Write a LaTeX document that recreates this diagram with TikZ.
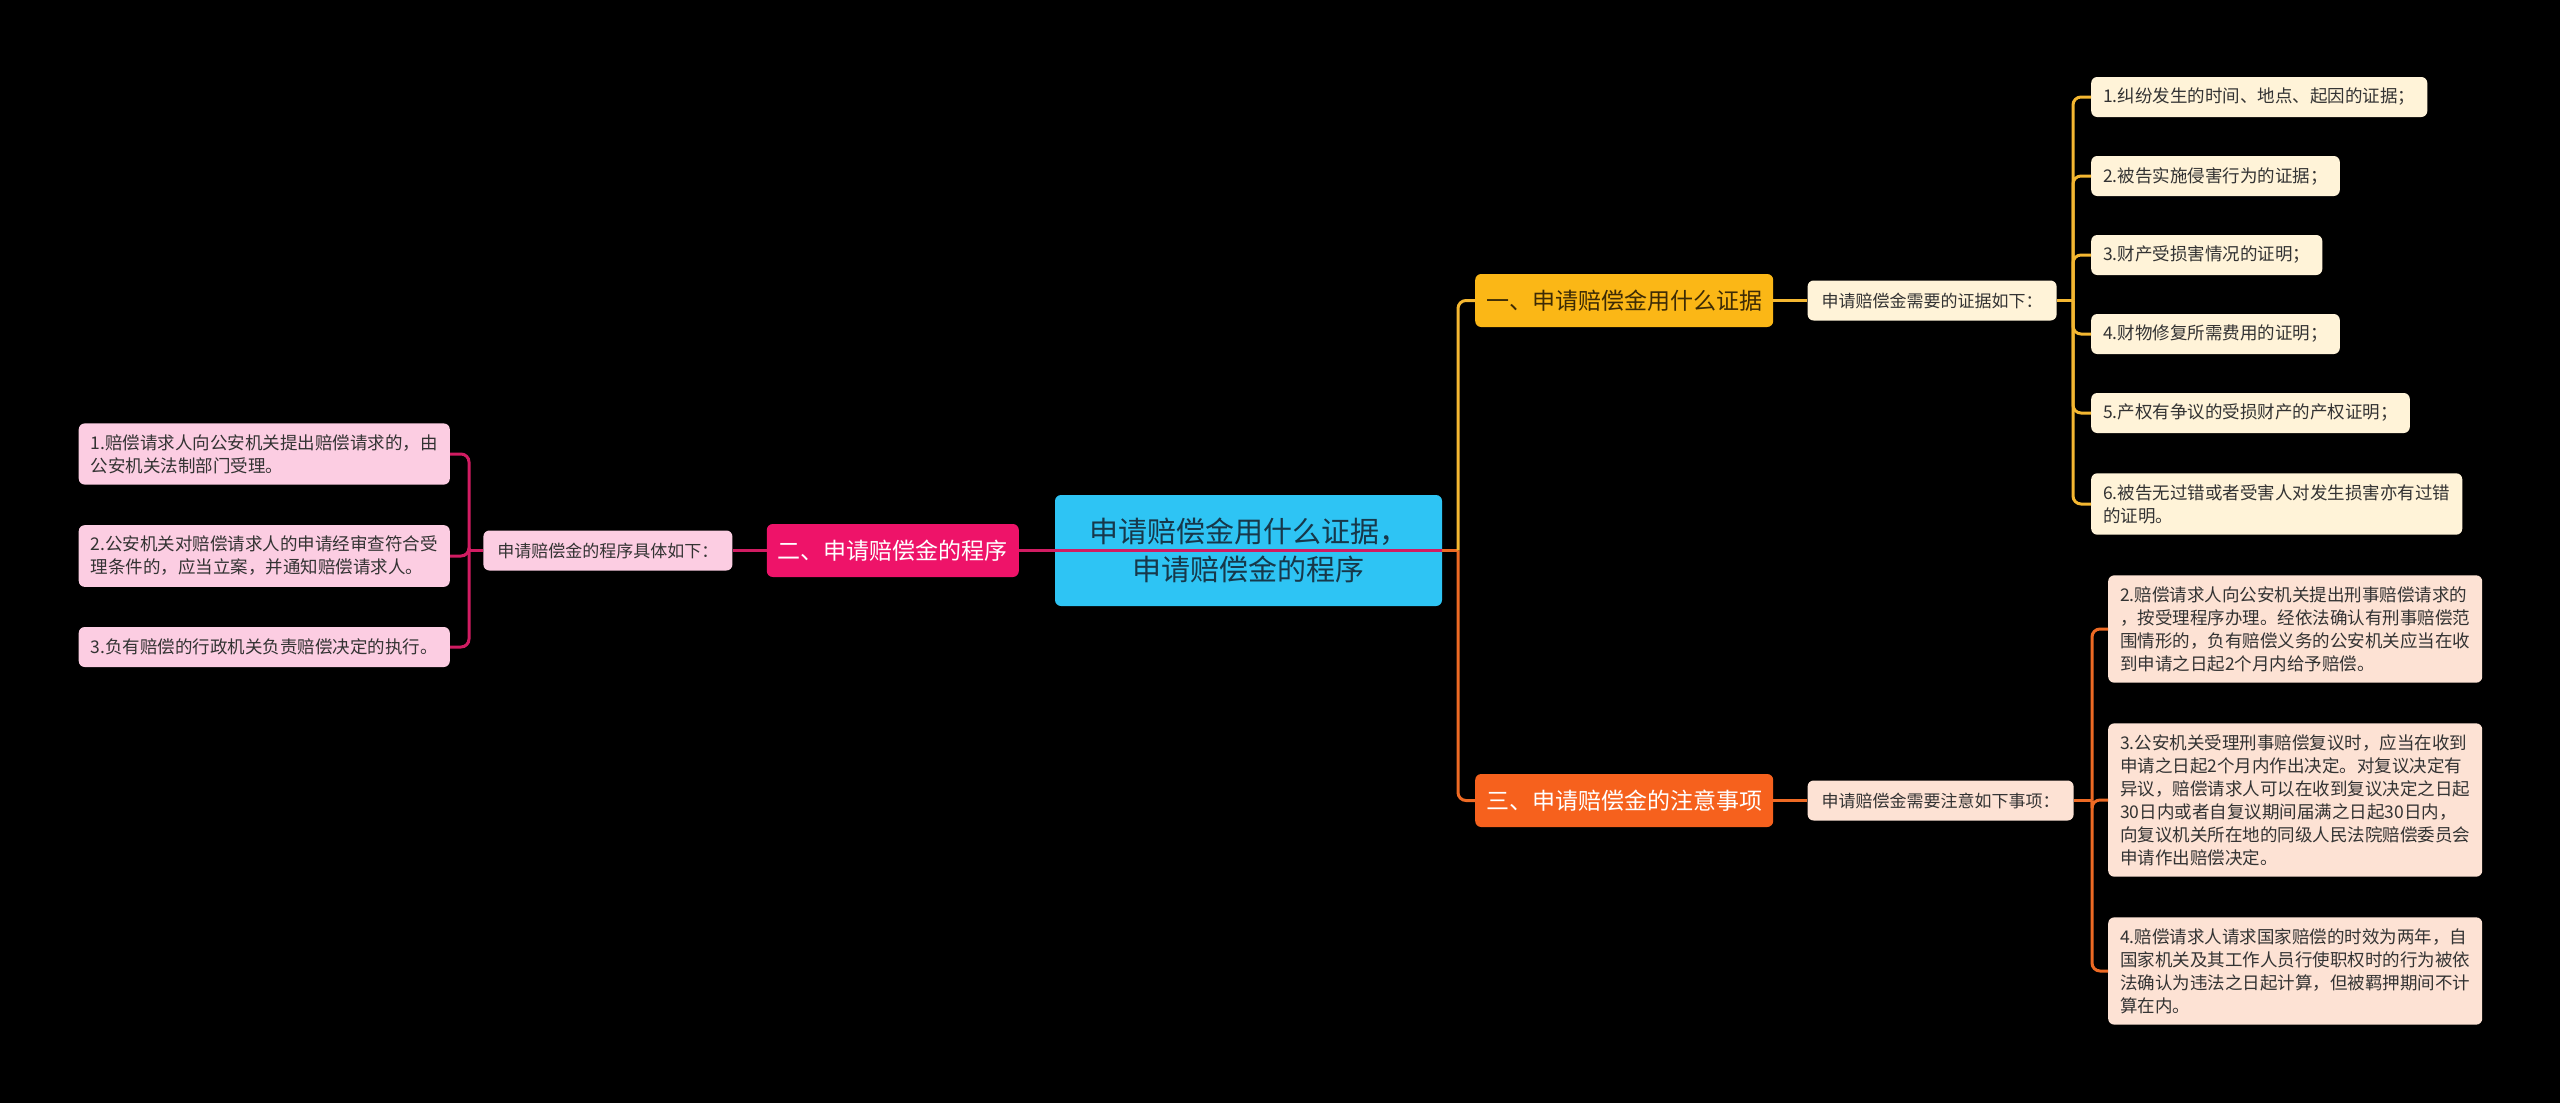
\documentclass[tikz,border=0pt]{standalone}
\usepackage{fontspec}
\setmainfont{Noto Sans CJK SC}
\usetikzlibrary{positioning}
\definecolor{MapBg}{HTML}{000000}
\definecolor{RootCyan}{HTML}{2EC4F4}
\definecolor{RootInk}{HTML}{17384A}
\definecolor{AmberMain}{HTML}{FBB716}
\definecolor{AmberInk}{HTML}{3D2B05}
\definecolor{AmberLight}{HTML}{FFF3D8}
\definecolor{AmberLine}{HTML}{F4B731}
\definecolor{PinkMain}{HTML}{EE1369}
\definecolor{PinkLight}{HTML}{FCCDE2}
\definecolor{PinkLine}{HTML}{D11C62}
\definecolor{OrangeMain}{HTML}{F6611D}
\definecolor{OrangeLight}{HTML}{FDE2D4}
\definecolor{OrangeLine}{HTML}{EE6A24}
\definecolor{LeafInk}{HTML}{333333}

\begin{document}
\begin{tikzpicture}[
  x=1pt, y=-1pt,
  node distance=34pt,
  rootbox/.style={fill=RootCyan,text=RootInk,rounded corners=6pt,minimum width=387pt,minimum height=111pt,align=center,font=\fontsize{29}{38}\selectfont},
  mainbox/.style={rounded corners=6pt,minimum height=53pt,inner xsep=11pt,font=\fontsize{23}{28}\selectfont},
  subbox/.style={rounded corners=6pt,minimum height=40pt,inner xsep=14pt,text=LeafInk,font=\fontsize{17}{23}\selectfont},
  leaf/.style={rounded corners=6pt,minimum height=40pt,inner xsep=12pt,inner ysep=11pt,align=left,text=LeafInk,font=\fontsize{17.5}{23}\selectfont},
  link/.style={line width=3pt,rounded corners=8pt}
]
\fill[MapBg] (0,0) rectangle (2560,1103);
\useasboundingbox (0,0) rectangle (2560,1103);

% centre and first level
\node[rootbox] (root) at (1248.5,550.5) {申请赔偿金用什么证据，\\申请赔偿金的程序};
\node[mainbox,fill=AmberMain,text=AmberInk,anchor=west] (m1) at (1475,300.5) {一、申请赔偿金用什么证据};
\node[subbox,fill=AmberLight,right=of m1] (s1) {申请赔偿金需要的证据如下：};
\node[mainbox,fill=PinkMain,text=white,anchor=east] (m2) at (1019,550.5) {二、申请赔偿金的程序};
\node[subbox,fill=PinkLight,left=of m2] (s2) {申请赔偿金的程序具体如下：};
\node[mainbox,fill=OrangeMain,text=white,anchor=west] (m3) at (1475,800.5) {三、申请赔偿金的注意事项};
\node[subbox,fill=OrangeLight,right=of m3] (s3) {申请赔偿金需要注意如下事项：};

% evidence list
\node[leaf,fill=AmberLight,anchor=west] (a1) at (2091,97) {1.纠纷发生的时间、地点、起因的证据；};
\node[leaf,fill=AmberLight,anchor=west] (a2) at (2091,176) {2.被告实施侵害行为的证据；};
\node[leaf,fill=AmberLight,anchor=west] (a3) at (2091,255) {3.财产受损害情况的证明；};
\node[leaf,fill=AmberLight,anchor=west] (a4) at (2091,334) {4.财物修复所需费用的证明；};
\node[leaf,fill=AmberLight,anchor=west] (a5) at (2091,413) {5.产权有争议的受损财产的产权证明；};
\node[leaf,fill=AmberLight,anchor=west] (a6) at (2091,504) {6.被告无过错或者受害人对发生损害亦有过错\\的证明。};

% procedure list
\node[leaf,fill=PinkLight,anchor=east] (b1) at (450,454) {1.赔偿请求人向公安机关提出赔偿请求的，由\\公安机关法制部门受理。};
\node[leaf,fill=PinkLight,anchor=east] (b2) at (450,556) {2.公安机关对赔偿请求人的申请经审查符合受\\理条件的，应当立案，并通知赔偿请求人。};
\node[leaf,fill=PinkLight,anchor=east] (b3) at (450,647) {3.负有赔偿的行政机关负责赔偿决定的执行。};

% notes list
\node[leaf,fill=OrangeLight,anchor=west] (c2) at (2108,629) {2.赔偿请求人向公安机关提出刑事赔偿请求的\\，按受理程序办理。经依法确认有刑事赔偿范\\围情形的，负有赔偿义务的公安机关应当在收\\到申请之日起2个月内给予赔偿。};
\node[leaf,fill=OrangeLight,anchor=west] (c3) at (2108,800) {3.公安机关受理刑事赔偿复议时，应当在收到\\申请之日起2个月内作出决定。对复议决定有\\异议，赔偿请求人可以在收到复议决定之日起\\30日内或者自复议期间届满之日起30日内，\\向复议机关所在地的同级人民法院赔偿委员会\\申请作出赔偿决定。};
\node[leaf,fill=OrangeLight,anchor=west] (c4) at (2108,971) {4.赔偿请求人请求国家赔偿的时效为两年，自\\国家机关及其工作人员行使职权时的行为被依\\法确认为违法之日起计算，但被羁押期间不计\\算在内。};

% junctions
\coordinate (jr) at (1458,550.5);
\coordinate (j1) at (2073,300.5);
\coordinate (j2) at (469,550.5);
\coordinate (j3) at (2092,800.5);

% connectors
\draw[link,PinkLine] (m2.east) -- (root.east);
\draw[link,OrangeLine] (root.east) -- (jr);
\draw[link,AmberLine] (jr) |- (m1.west);
\draw[link,OrangeLine] (jr) |- (m3.west);
\draw[link,AmberLine] (m1.east) -- (s1.west);
\draw[link,PinkLine] (m2.west) -- (s2.east);
\draw[link,OrangeLine] (m3.east) -- (s3.west);
\draw[link,AmberLine] (s1.east) -- (j1);
\draw[link,PinkLine] (s2.west) -- (j2);
\draw[link,OrangeLine] (s3.east) -- (j3);
\foreach \n in {a1,a2,a3,a4,a5,a6}
  \draw[link,AmberLine] (j1) |- (\n.west);
\foreach \n in {b1,b2,b3}
  \draw[link,PinkLine] (j2) |- (\n.east);
\foreach \n in {c2,c3,c4}
  \draw[link,OrangeLine] (j3) |- (\n.west);
\end{tikzpicture}
\end{document}
